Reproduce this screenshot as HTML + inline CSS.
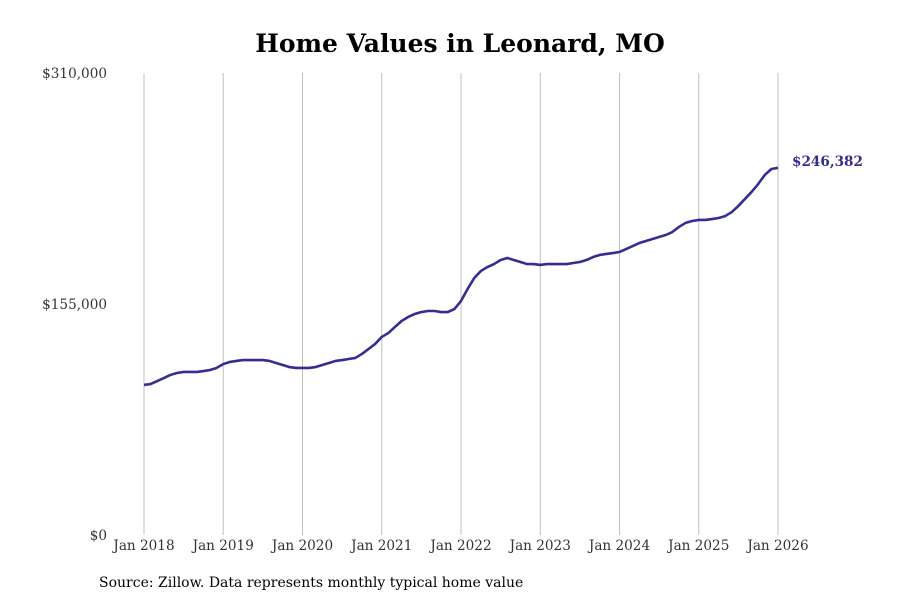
<!DOCTYPE html>
<html><head><meta charset="utf-8"><style>
body{margin:0;background:#fff;}
svg{display:block;font-family:"DejaVu Serif",serif;}
</style></head><body>
<svg id="chart" width="900" height="600">
<text x="460" y="52" text-anchor="middle" font-size="25" font-weight="bold" fill="#000">Home Values in Leonard, MO</text>
<g id="grid"></g>
<g id="yaxis"></g>
<g id="xaxis"></g>
<path id="line" fill="none" stroke="#332e8f" stroke-width="2.6" stroke-linejoin="round"/>
<text id="endlabel" font-size="13.6" font-weight="bold" fill="#332e8f"></text>
<text x="99" y="587" font-size="14" fill="#000">Source: Zillow. Data represents monthly typical home value</text>
</svg>
<script>
const yTicks=[0,155000,310000];
const yTickLabels=["$0","$155,000","$310,000"];
const xYears=[2018,2019,2020,2021,2022,2023,2024,2025,2026];
const xTickLabels=["Jan 2018","Jan 2019","Jan 2020","Jan 2021","Jan 2022","Jan 2023","Jan 2024","Jan 2025","Jan 2026"];
const startYear=2018;
const valuesK=[
100.7,101.3,103.3,105.3,107.4,108.7,109.4,109.4,109.4,110.0,110.7,112.1,
114.7,116.1,116.8,117.4,117.4,117.4,117.4,116.8,115.4,114.1,112.7,112.1,
112.1,112.1,112.7,114.1,115.4,116.8,117.4,118.1,118.8,121.5,124.8,128.2,
132.9,135.5,139.6,143.6,146.3,148.3,149.6,150.3,150.3,149.6,149.6,151.6,
157.0,165.1,172.4,177.1,179.8,181.8,184.5,185.9,184.5,183.2,181.8,181.8,
181.2,181.8,181.8,181.8,181.8,182.5,183.2,184.5,186.5,187.9,188.6,189.2,
189.9,191.9,193.9,195.9,197.3,198.6,200.0,201.3,203.3,206.7,209.4,210.7,
211.4,211.4,212.0,212.7,214.0,216.7,220.8,225.5,230.2,235.5,241.6,245.6,
246.382];
const lastLabel="$246,382";
const NS="http://www.w3.org/2000/svg";
const x0=144,x1=778,y0=535,y1=73;
function xPos(monthIndex){return x0+(x1-x0)*monthIndex/((xYears[xYears.length-1]-startYear)*12);}
function yPos(v){return y0-(y0-y1)*v/310000;}
const grid=document.getElementById('grid'),xa=document.getElementById('xaxis'),ya=document.getElementById('yaxis');
xYears.forEach((yr,i)=>{
  const x=xPos((yr-startYear)*12);
  const l=document.createElementNS(NS,'line');
  l.setAttribute('x1',x);l.setAttribute('x2',x);l.setAttribute('y1',y1);l.setAttribute('y2',y0);
  l.setAttribute('stroke','#c0c0c0');l.setAttribute('stroke-width','1');
  
  
  grid.appendChild(l);
  const t=document.createElementNS(NS,'text');
  t.setAttribute('x',x);t.setAttribute('y',550);t.setAttribute('text-anchor','middle');
  t.setAttribute('font-size','13.6');t.setAttribute('fill','#333');
  t.textContent=xTickLabels[i];
  
  
  xa.appendChild(t);
});
yTicks.forEach((v,i)=>{
  const t=document.createElementNS(NS,'text');
  t.setAttribute('x',107);t.setAttribute('y',yPos(v)+5);t.setAttribute('text-anchor','end');
  t.setAttribute('font-size','13.6');t.setAttribute('fill','#333');
  t.textContent=yTickLabels[i];
  
  
  ya.appendChild(t);
});
let d='';
valuesK.forEach((v,i)=>{d+=(i?'L':'M')+xPos(i).toFixed(2)+','+yPos(v*1000).toFixed(2);});
document.getElementById('line').setAttribute('d',d);
const lastI=valuesK.length-1;
const el=document.getElementById('endlabel');
el.setAttribute('x',xPos(lastI)+14);el.setAttribute('y',yPos(valuesK[lastI]*1000)-2);
el.textContent=lastLabel;
</script>
</body></html>
